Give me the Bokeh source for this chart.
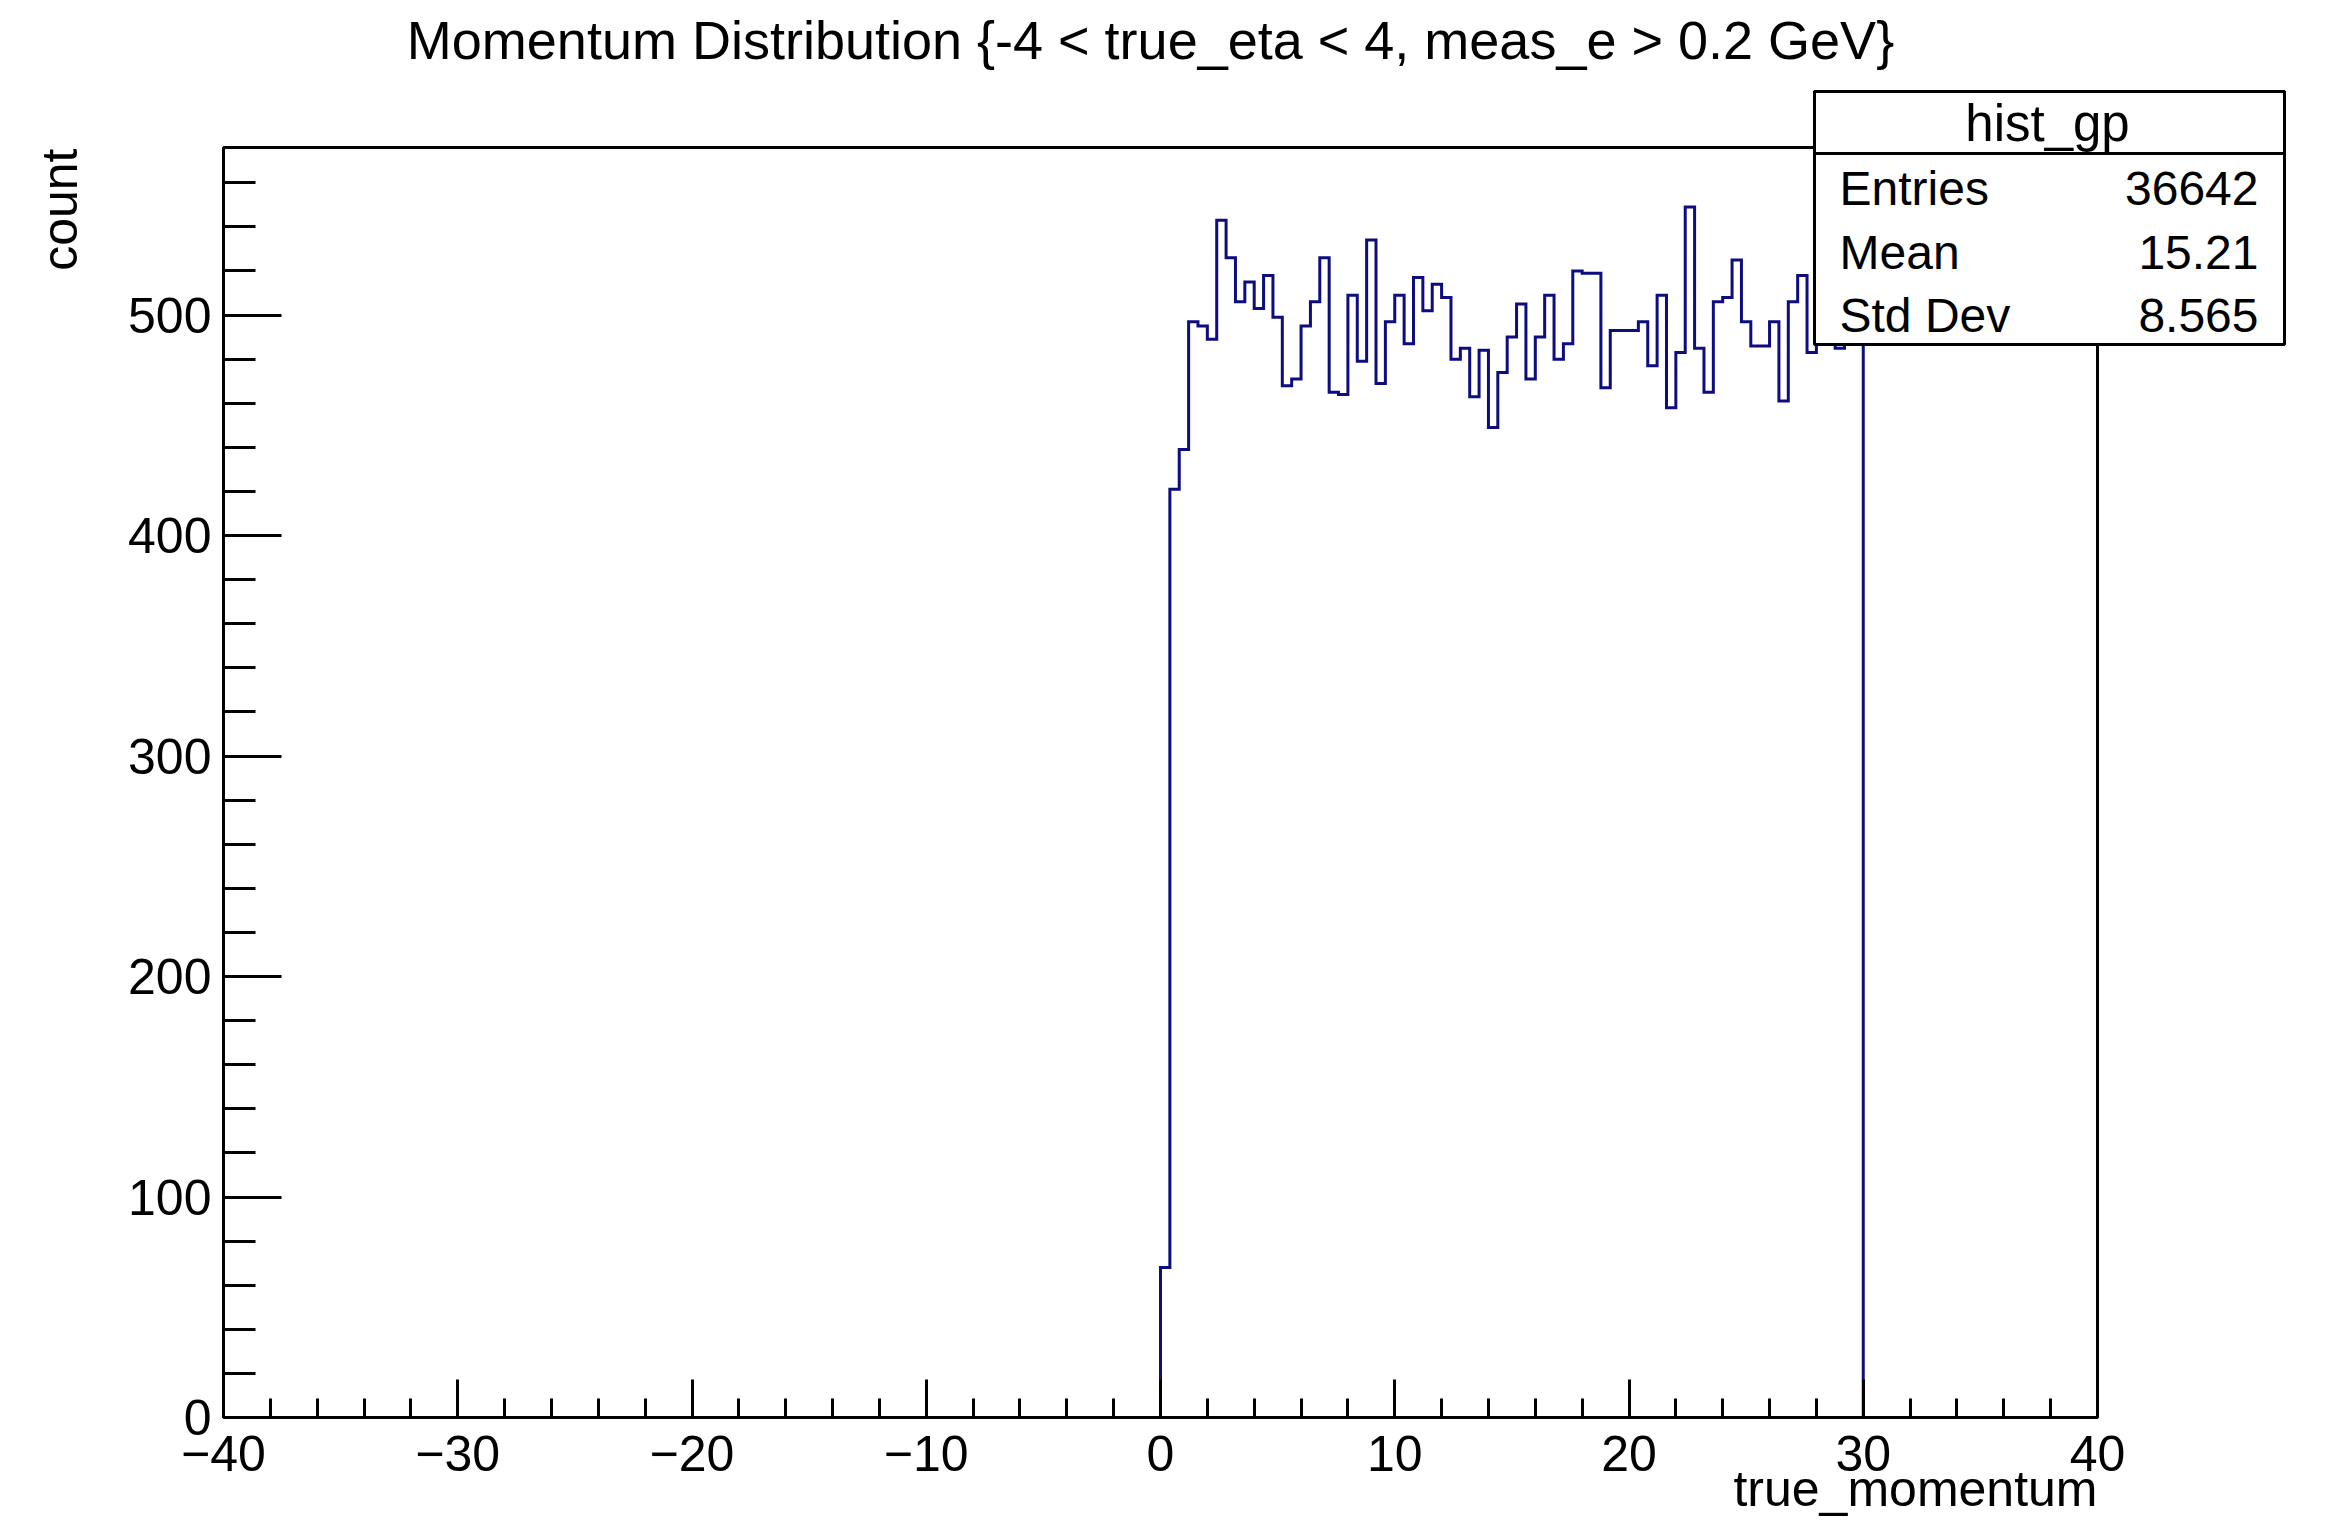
import numpy as np
from bokeh.plotting import figure
from bokeh.models import Range1d, FixedTicker, Label, BoxAnnotation
from bokeh.embed import file_html
from bokeh.resources import INLINE

# ---------------- data ----------------
title_text = "Momentum Distribution {-4 < true_eta < 4, meas_e > 0.2 GeV}"
x_title = "true_momentum"
y_title = "count"
hist_name = "hist_gp"
stat_names = ["Entries", "Mean", "Std Dev"]
stat_values = ["36642", "15.21", "8.565"]

bin_low = 0.0
bin_width = 0.4
counts = [
    68, 421, 439, 497, 495, 489, 543, 526, 506, 515,
    503, 518, 499, 468, 471, 495, 506, 526, 465, 464,
    509, 479, 534, 469, 497, 509, 487, 517, 502, 514,
    508, 480, 485, 463, 484, 449, 474, 490, 505, 471,
    490, 509, 480, 487, 520, 519, 519, 467, 493, 493,
    493, 497, 477, 509, 458, 483, 549, 485, 465, 506,
    508, 525, 497, 486, 486, 497, 461, 506, 518, 483,
    500, 505, 485, 495, 500,
]

x_major = [-40, -30, -20, -10, 0, 10, 20, 30, 40]
x_major_labels = ["\u221240", "\u221230", "\u221220", "\u221210", "0", "10", "20", "30", "40"]
x_minor = [-38, -36, -34, -32, -28, -26, -24, -22, -18, -16, -14, -12, -8, -6, -4, -2,
           2, 4, 6, 8, 12, 14, 16, 18, 22, 24, 26, 28, 32, 34, 36, 38]
y_major = [0, 100, 200, 300, 400, 500]
y_major_labels = ["0", "100", "200", "300", "400", "500"]
y_minor = [20, 40, 60, 80, 120, 140, 160, 180, 220, 240, 260, 280, 320, 340, 360, 380,
           420, 440, 460, 480, 520, 540, 560]

X_MIN, X_MAX = -40, 40
Y_MIN, Y_MAX = 0, 576

# ---------------- layout (pixel placement of the axes box) ----------------
W, H = 2314, 1520
BOX_L, BOX_R, BOX_T, BOX_B = 223, 2097, 147, 1417
SX = (BOX_R - BOX_L) / (X_MAX - X_MIN)
SY = (BOX_B - BOX_T) / (Y_MAX - Y_MIN)
FONT = "Liberation Sans"
LINE_COLOR = "#0d0d80"


def dx(fx):
    return X_MIN + (fx - BOX_L) / SX


def dy(fy):
    return Y_MIN + (BOX_B - fy) / SY


p = figure(width=W, height=H,
           x_range=Range1d(dx(0), dx(W)), y_range=Range1d(dy(H), dy(0)),
           output_backend="svg", toolbar_location=None,
           min_border_left=0, min_border_right=0, min_border_top=0, min_border_bottom=0)
p.title.visible = False
p.background_fill_color = "white"
p.border_fill_color = "white"
p.outline_line_color = None
p.xgrid.visible = False
p.ygrid.visible = False

for ax in (p.xaxis[0], p.yaxis[0]):
    ax.axis_line_color = None
    ax.major_tick_line_width = 3
    ax.minor_tick_line_width = 3
    ax.major_tick_line_color = "black"
    ax.minor_tick_line_color = "black"
    ax.major_tick_out = 0
    ax.minor_tick_out = 0
    ax.major_label_text_font = FONT
    ax.major_label_text_font_size = "50px"
    ax.major_label_text_color = "black"

p.xaxis[0].fixed_location = Y_MIN
p.xaxis[0].ticker = FixedTicker(ticks=x_major, minor_ticks=x_minor)
p.xaxis[0].major_label_overrides = {k: v for k, v in zip(x_major, x_major_labels)}
p.xaxis[0].major_tick_in = 38
p.xaxis[0].minor_tick_in = 19
p.xaxis[0].major_label_standoff = 18

p.yaxis[0].fixed_location = X_MIN
p.yaxis[0].ticker = FixedTicker(ticks=y_major, minor_ticks=y_minor)
p.yaxis[0].major_label_overrides = {k: v for k, v in zip(y_major, y_major_labels)}
p.yaxis[0].major_tick_in = 58
p.yaxis[0].minor_tick_in = 32
p.yaxis[0].major_label_standoff = 12

# ---------------- histogram ----------------
edges = bin_low + bin_width * np.arange(len(counts) + 1)
xs = np.repeat(edges, 2)
ys = np.concatenate([[0], np.repeat(np.array(counts, dtype=float), 2), [0]])
p.line(xs, ys, line_color=LINE_COLOR, line_width=3, line_join="miter")

# ---------------- frame ----------------
p.add_layout(BoxAnnotation(left=X_MIN, right=X_MAX, bottom=Y_MIN, top=Y_MAX,
                           fill_alpha=0.0, line_color="black", line_width=3, line_alpha=1.0))

# ---------------- texts ----------------
p.add_layout(Label(x=dx(1150), y=dy(39), text=title_text, text_font=FONT, text_font_size="54px",
                   text_align="center", text_baseline="middle", text_color="black"))
p.add_layout(Label(x=dx(BOX_R), y=dy(1488), text=x_title, text_font=FONT, text_font_size="50px",
                   text_align="right", text_baseline="middle", text_color="black"))
p.add_layout(Label(x=dx(59), y=dy(148), text=y_title, text_font=FONT, text_font_size="50px",
                   text_align="right", text_baseline="middle", angle=np.pi / 2, text_color="black"))

# ---------------- stats box ----------------
p.add_layout(BoxAnnotation(left=dx(1814), right=dx(2284), top=dy(91), bottom=dy(344),
                           fill_color="white", fill_alpha=1.0, line_color="black", line_width=3,
                           line_alpha=1.0))
p.add_layout(BoxAnnotation(left=dx(1814), right=dx(2284), top=dy(91), bottom=dy(153),
                           fill_alpha=0.0, line_color="black", line_width=3, line_alpha=1.0))
p.add_layout(Label(x=dx(2047), y=dy(123), text=hist_name, text_font=FONT, text_font_size="51px",
                   text_align="center", text_baseline="middle", text_color="black"))
for i, (nm, val) in enumerate(zip(stat_names, stat_values)):
    fy = 188 + 63.5 * i
    p.add_layout(Label(x=dx(1839), y=dy(fy), text=nm, text_font=FONT, text_font_size="48px",
                       text_align="left", text_baseline="middle", text_color="black"))
    p.add_layout(Label(x=dx(2258), y=dy(fy), text=val, text_font=FONT, text_font_size="48px",
                       text_align="right", text_baseline="middle", text_color="black"))

open("out.html", "w").write(file_html(p, INLINE))
